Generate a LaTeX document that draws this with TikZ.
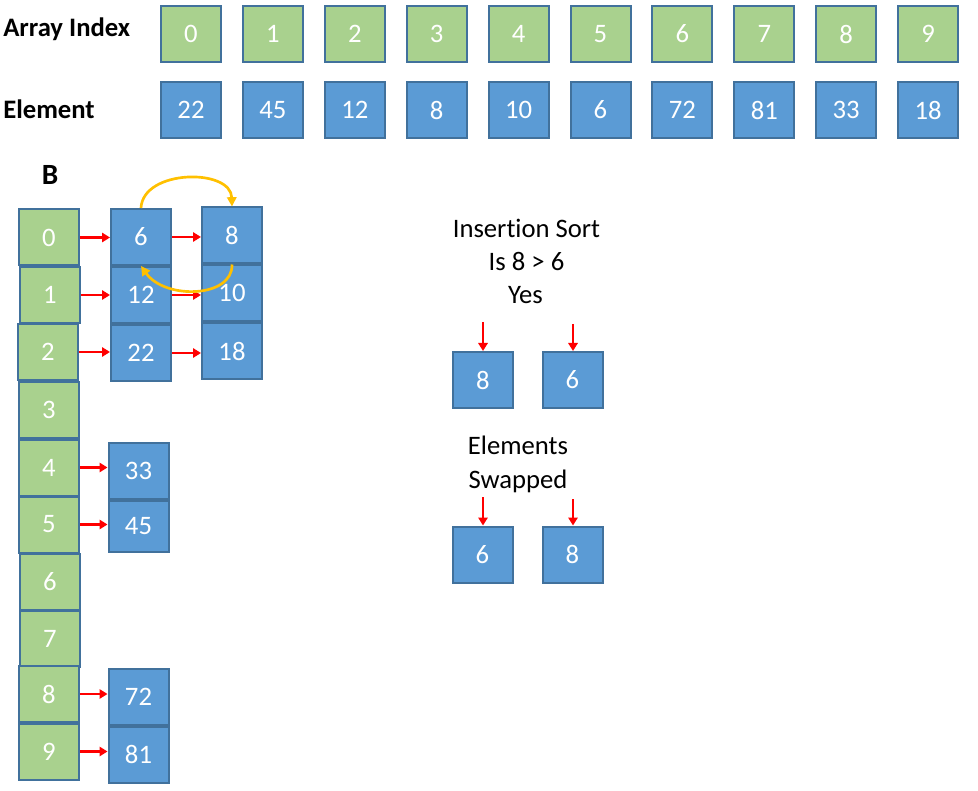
\documentclass[tikz,border=0pt]{standalone}
\usepackage{fontspec}
\setmainfont{Carlito}[Ligatures={NoCommon,NoRequired,NoContextual}]
\usetikzlibrary{arrows.meta}
\definecolor{gfill}{HTML}{A9D18E}
\definecolor{bfill}{HTML}{5B9BD5}
\definecolor{bline}{HTML}{41719C}
\definecolor{gold}{HTML}{FFC000}
\begin{document}
\begin{tikzpicture}[x=0.75pt,y=-0.75pt,
 cell/.style={draw=bline,line width=1.5pt,minimum width=45pt,minimum height=42pt,inner sep=0pt,text=white,font=\fontsize{20}{24}\selectfont},
 gcell/.style={cell,fill=gfill},
 bcell/.style={cell,fill=bfill},
 lbl/.style={font=\fontsize{20}{24}\selectfont,inner sep=0pt},
 blbl/.style={inner sep=0pt,font=\fontsize{20}{24}\selectfont\bfseries},
 redarr/.style={draw=red,line width=2.2pt,-{Triangle[length=6pt,width=7pt]}},
 goldarr/.style={draw=gold,line width=2pt,-{Triangle[length=7pt,width=7pt]}}]
\useasboundingbox (0,0) rectangle (978,791);

% top rows
\node[blbl,anchor=base west] (tai) at (3,37) {Array Index};
\node[blbl,anchor=base west] (tel) at (3,119) {Element};
\foreach \v/\e [count=\k from 0] in {0/22,1/45,2/12,3/8,4/10,5/6,6/72,7/81,8/33,9/18}{
  \node[gcell] (ai\k) at ({191+81.9*\k},34) {\v};
  \node[bcell] (el\k) at ({191+81.9*\k},110) {\e};
}

% buckets
\node[blbl,anchor=base,font=\fontsize{22}{26}\selectfont\bfseries] (tb) at (50,185) {B};
\foreach \v/\y/\x [count=\k from 0] in {0/237.5/49,1/295/50,2/352/48,3/410/49,4/467.5/49,5/524.5/49,6/582/50,7/638.5/50,8/694/49,9/751.5/49}{
  \node[gcell] (g\k) at (\x,\y) {\v};
}
\node[bcell] (b0) at (141,237) {6};
\node[bcell] (b1) at (141,295) {12};
\node[bcell] (b2) at (141,353) {22};
\node[bcell] (c0) at (232,235.5) {8};
\node[bcell] (c1) at (232,293) {10};
\node[bcell] (c2) at (232,351.5) {18};
\node[bcell] (b4) at (138.5,471) {33};
\node[bcell,minimum height=38pt] (b5) at (138.5,526.5) {45};
\node[bcell] (b8) at (138.5,696.5) {72};
\node[bcell] (b9) at (138.5,754.5) {81};

\foreach \k in {0,1,2,4,5,8,9}{
  \draw[redarr] (g\k.east) -- (g\k.east -| b\k.west);
}
\foreach \k in {0,1,2}{
  \draw[redarr] (b\k.east) -- (b\k.east -| c\k.west);
}

% gold swap arcs
\draw[goldarr] (b0.north) .. controls (143,169) and (231,168) .. (c0.north);
\draw[goldarr] (c0.south) .. controls (233,298) and (165,300) .. (b0.south);

% right side
\node[lbl,anchor=base] (q1) at (526.5,238) {Insert\kern0pt ion Sort};
\node[lbl,anchor=base] (q2) at (526.5,271) {Is 8 > 6};
\node[lbl,anchor=base] (q3) at (525.5,304) {Yes};
\node[bcell] (s8) at (483,380) {8};
\node[bcell] (s6) at (572.5,380) {6};
\coordinate (p1) at (483,322);
\coordinate (p2) at (573,324);
\draw[redarr] (p1) -- (p1 |- s8.north);
\draw[redarr] (p2) -- (p2 |- s6.north);

\node[lbl,anchor=base] (r1) at (518,455) {Elements};
\node[lbl,anchor=base] (r2) at (518,488) {Swapped};
\node[bcell] (w6) at (482.5,554.5) {6};
\node[bcell] (w8) at (572.5,554.5) {8};
\coordinate (p3) at (483,497);
\coordinate (p4) at (573,499);
\draw[redarr] (p3) -- (p3 |- w6.north);
\draw[redarr] (p4) -- (p4 |- w8.north);
\end{tikzpicture}
\end{document}
